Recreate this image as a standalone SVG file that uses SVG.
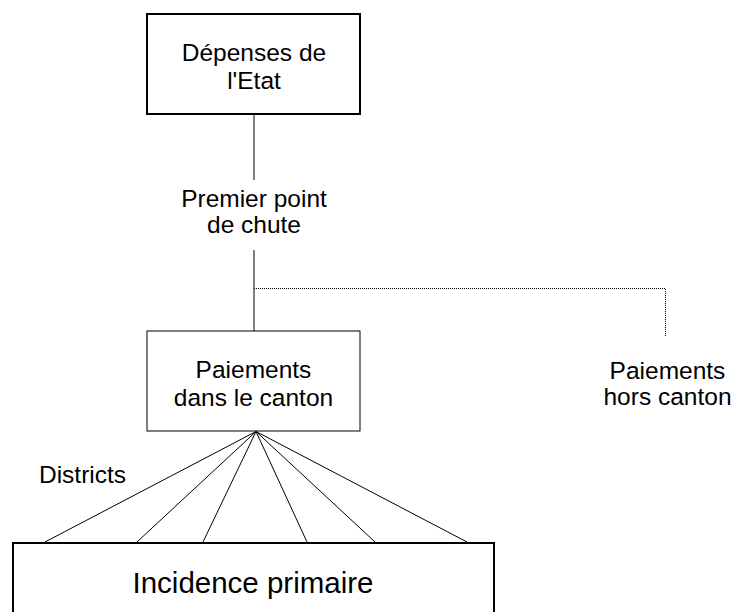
<svg xmlns="http://www.w3.org/2000/svg" width="735" height="612" viewBox="0 0 735 612">
<style>
text{font-family:"Liberation Sans",Arial,sans-serif;font-size:24.5px;fill:#000;text-anchor:middle}
.big{font-size:29.5px}
.thick{fill:#fff;stroke:#000;stroke-width:2}
.thin{fill:#fff;stroke:#000;stroke-width:1}
.c{stroke:#000;stroke-width:1;fill:none}
.d{stroke:#000;stroke-width:1;fill:none;stroke-dasharray:1 1}
</style>
<rect width="735" height="612" fill="#fff"/>
<g id="connectors">
<line class="c" x1="254" y1="114" x2="254" y2="180"/>
<line class="c" x1="254" y1="250" x2="254" y2="331"/>
<polyline class="d" points="254,288.5 665.5,288.5 665.5,337"/>
<line class="c" x1="256" y1="431.5" x2="45" y2="542"/>
<line class="c" x1="256" y1="431.5" x2="137" y2="542"/>
<line class="c" x1="256" y1="431.5" x2="203" y2="542"/>
<line class="c" x1="256" y1="431.5" x2="307" y2="542"/>
<line class="c" x1="256" y1="431.5" x2="375" y2="542"/>
<line class="c" x1="256" y1="431.5" x2="467" y2="542"/>
</g>
<g id="depenses">
<rect class="thick" x="147" y="14" width="213" height="100"/>
<text x="254" y="61">Dépenses de</text>
<text x="254" y="89">l'Etat</text>
</g>
<g id="premier">
<text x="254" y="207">Premier point</text>
<text x="254" y="233">de chute</text>
</g>
<g id="paiements-dans">
<rect class="thin" x="147" y="331" width="213" height="100"/>
<text x="253.5" y="378">Paiements</text>
<text x="253.5" y="405.5">dans le canton</text>
</g>
<g id="paiements-hors">
<text x="667.5" y="379">Paiements</text>
<text x="667.5" y="405">hors canton</text>
</g>
<g id="districts">
<text x="82.5" y="482.5">Districts</text>
</g>
<g id="incidence">
<rect class="thick" x="13" y="543" width="481" height="100"/>
<text class="big" x="253" y="592.5">Incidence primaire</text>
</g>
</svg>
